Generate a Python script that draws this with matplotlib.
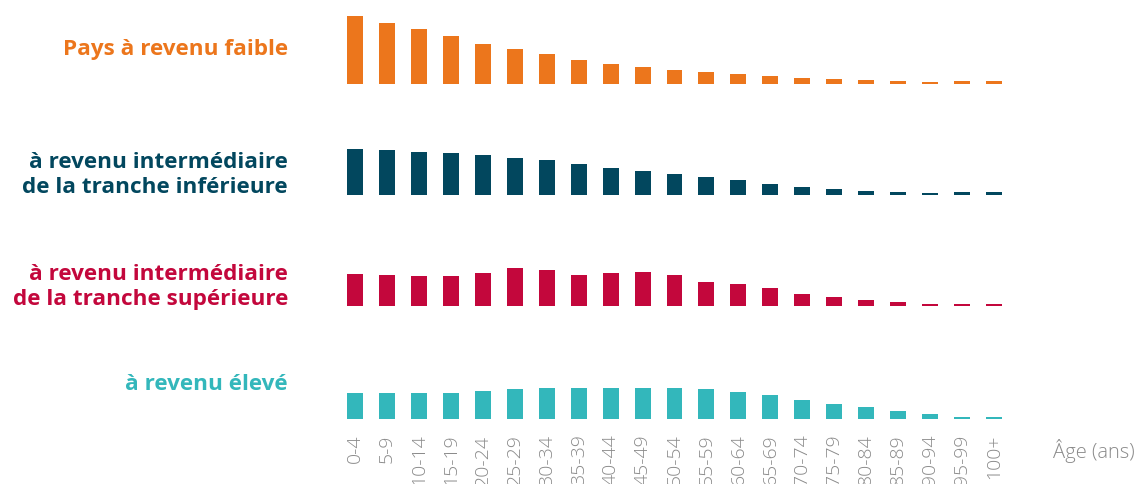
import matplotlib
matplotlib.use('Agg')
import matplotlib.pyplot as plt

# Age groups
ages = ["0-4", "5-9", "10-14", "15-19", "20-24", "25-29", "30-34", "35-39",
        "40-44", "45-49", "50-54", "55-59", "60-64", "65-69", "70-74", "75-79",
        "80-84", "85-89", "90-94", "95-99", "100+"]

# Share of population by age group (%)
low = [15.1, 13.6, 12.2, 10.7, 9.0, 7.8, 6.7, 5.3, 4.4, 3.8, 3.1, 2.7, 2.2,
       1.8, 1.3, 1.1, 0.9, 0.7, 0.4, 0.7, 0.7]
lower_mid = [10.2, 10.0, 9.6, 9.3, 8.9, 8.2, 7.8, 6.9, 6.0, 5.3, 4.7, 4.0, 3.3,
             2.4, 1.8, 1.3, 0.9, 0.7, 0.4, 0.7, 0.7]
upper_mid = [7.2, 7.0, 6.7, 6.7, 7.4, 8.5, 8.1, 7.0, 7.4, 7.6, 7.0, 5.4, 5.0,
             3.9, 2.7, 2.1, 1.4, 1.0, 0.5, 0.5, 0.5]
high = [5.8, 5.8, 5.8, 5.8, 6.2, 6.7, 6.9, 6.9, 6.9, 6.9, 6.9, 6.7, 6.0,
        5.3, 4.2, 3.3, 2.7, 1.8, 1.1, 0.4, 0.4]

groups = ["Pays à revenu faible",
          "à revenu intermédiaire\nde la tranche inférieure",
          "à revenu intermédiaire\nde la tranche supérieure",
          "à revenu élevé"]
series = [low, lower_mid, upper_mid, high]
colors = ["#EC761C", "#02475E", "#C3073C", "#33B7BB"]

W, H = 1139, 485
fig = plt.figure(figsize=(W / 100, H / 100), dpi=100)

baselines = [85, 196, 307, 420]   # pixel rows from the top
label_y = [49, 175, 287, 385]
px_per_pct = 4.5
ax_h = 72

for i, (vals, col) in enumerate(zip(series, colors)):
    ax = fig.add_axes([339 / W, (H - baselines[i]) / H, 671 / W, ax_h / H])
    ax.bar(range(len(ages)), vals, width=0.5, color=col)
    ax.set_xlim(-0.5, len(ages) - 0.5)
    ax.set_ylim(0, ax_h / px_per_pct)
    ax.set_yticks([])
    for s in ax.spines.values():
        s.set_visible(False)
    if i == 3:
        ax.set_xticks(range(len(ages)))
        ax.set_xticklabels(ages, rotation=90, color="#8a8a8a", fontsize=14,
                           family="Open Sans", fontweight="light")
        ax.tick_params(axis="x", length=0, pad=10.5)
    else:
        ax.set_xticks([])
    fig.text(288 / W, 1 - label_y[i] / H, groups[i], ha="right", va="center",
             ma="right", color=col, fontsize=16.2, fontweight="bold",
             family="Open Sans", linespacing=1.2)

fig.text(1053 / W, 1 - 451 / H, "Âge (ans)", ha="left", va="center",
         color="#8a8a8a", fontsize=14.5, family="Open Sans", fontweight="light")

fig.savefig("out.png", dpi=100)
